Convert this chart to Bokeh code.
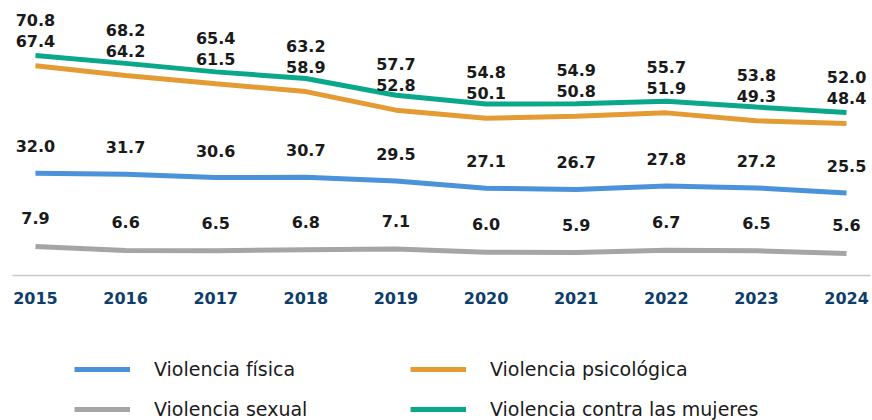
from bokeh.plotting import figure
from bokeh.layouts import column
from bokeh.models import ColumnDataSource, LabelSet, Legend, LegendItem, Range1d, FixedTicker
from bokeh.core.properties import value
from bokeh.embed import file_html
from bokeh.resources import INLINE

years = [2015, 2016, 2017, 2018, 2019, 2020, 2021, 2022, 2023, 2024]
fisica = [32.0, 31.7, 30.6, 30.7, 29.5, 27.1, 26.7, 27.8, 27.2, 25.5]
psicologica = [67.4, 64.2, 61.5, 58.9, 52.8, 50.1, 50.8, 51.9, 49.3, 48.4]
sexual = [7.9, 6.6, 6.5, 6.8, 7.1, 6.0, 5.9, 6.7, 6.5, 5.6]
contra = [70.8, 68.2, 65.4, 63.2, 57.7, 54.8, 54.9, 55.7, 53.8, 52.0]
names = ["Violencia física", "Violencia psicológica", "Violencia sexual", "Violencia contra las mujeres"]
colors = ["#4a92d9", "#e49b34", "#a5a5a5", "#0aa88a"]

src = ColumnDataSource(dict(
    x=years, fis=fisica, psi=psicologica, sex=sexual, con=contra,
    fis_t=[f"{v:.1f}" for v in fisica],
    psi_t=[f"{v:.1f}" for v in psicologica],
    sex_t=[f"{v:.1f}" for v in sexual],
    con_t=[f"{v:.1f}" for v in contra],
))
cols = ["fis", "psi", "sex", "con"]

p = figure(width=872, height=320, output_backend="svg", toolbar_location=None,
           x_range=Range1d(2014.745, 2024.266), y_range=Range1d(-1.65, 88.9),
           y_axis_location=None, min_border_left=12, min_border_right=2,
           min_border_top=0, min_border_bottom=45)
p.outline_line_color = None
p.grid.visible = False
p.background_fill_color = "white"
p.border_fill_color = "white"

for c, col in zip(colors, cols):
    p.line("x", col, source=src, line_color=c, line_width=5)

lab_kw = dict(source=src, text_align="center", text_baseline="middle",
              text_font=value("DejaVu Sans"), text_font_style="bold",
              text_font_size="16px", text_color="#1a1a1a")
p.add_layout(LabelSet(x="x", y="psi", text="psi_t", y_offset=25, **lab_kw))
p.add_layout(LabelSet(x="x", y="psi", text="con_t", y_offset=46, **lab_kw))
p.add_layout(LabelSet(x="x", y="fis", text="fis_t", y_offset=27, **lab_kw))
p.add_layout(LabelSet(x="x", y="sex", text="sex_t", y_offset=28, **lab_kw))

xa = p.xaxis[0]
xa.ticker = FixedTicker(ticks=years)
xa.major_tick_line_color = None
xa.minor_tick_line_color = None
xa.axis_line_color = "#c8c8c8"
xa.axis_line_width = 1.5
xa.major_label_standoff = 10
xa.major_label_text_font = "DejaVu Sans"
xa.major_label_text_font_style = "bold"
xa.major_label_text_font_size = "16px"
xa.major_label_text_color = "#0e3d6b"

# legend panel (same series, drawn outside this panel's visible ranges)
p2 = figure(width=872, height=100, output_backend="svg", toolbar_location=None,
            x_range=Range1d(0, 1), y_range=Range1d(0, 1),
            x_axis_location=None, y_axis_location=None,
            min_border_left=0, min_border_right=0, min_border_top=0, min_border_bottom=0)
p2.outline_line_color = None
p2.grid.visible = False
p2.border_fill_color = "white"
p2.background_fill_color = "white"
lr = [p2.line("x", col, source=src, line_color=c, line_width=5) for c, col in zip(colors, cols)]

legend = Legend(items=[LegendItem(label=n, renderers=[r]) for n, r in zip(names, lr)],
    location=(62, 0), ncols=2, nrows=2, orientation="horizontal",
    glyph_width=56, glyph_height=20, label_standoff=24, label_width=238,
    label_height=20, spacing=18, padding=0, margin=0,
    border_line_color=None, background_fill_alpha=0,
    label_text_font="DejaVu Sans", label_text_font_size="19px",
    label_text_color="#1a1a1a")
p2.add_layout(legend, "center")

layout = column(p, p2, spacing=0)
open("out.html", "w").write(file_html(layout, INLINE))
